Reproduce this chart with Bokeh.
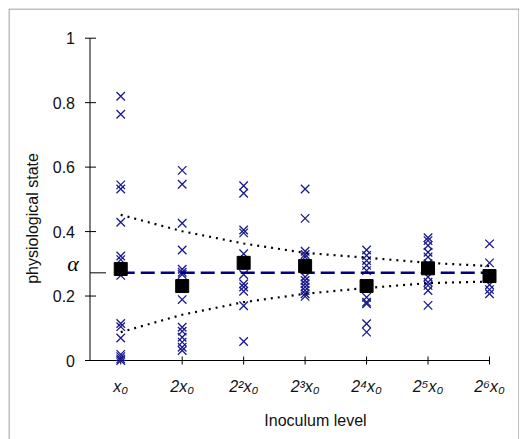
import math
from bokeh.plotting import figure
from bokeh.models import FixedTicker, Label
from bokeh.core.properties import value
from bokeh.embed import file_html
from bokeh.resources import INLINE

# ---------------- data ----------------
levels = ["x₀", "2x₀", "2²x₀", "2³x₀", "2⁴x₀", "2⁵x₀", "2⁶x₀"]
level_pos = [1, 2, 3, 4, 5, 6, 7]

obs_x0 = [0.820, 0.764, 0.545, 0.532, 0.429, 0.324, 0.313, 0.264, 0.115, 0.105, 0.070, 0.019, 0.012, 0.005, 0.000]
obs_2x0 = [0.590, 0.547, 0.426, 0.343, 0.283, 0.274, 0.267, 0.189, 0.103, 0.091, 0.072, 0.057, 0.041, 0.031]
obs_4x0 = [0.542, 0.519, 0.405, 0.396, 0.331, 0.267, 0.238, 0.228, 0.215, 0.170, 0.059]
obs_8x0 = [0.532, 0.441, 0.339, 0.329, 0.321, 0.259, 0.248, 0.238, 0.228, 0.217, 0.207, 0.199]
obs_16x0 = [0.343, 0.326, 0.310, 0.295, 0.279, 0.196, 0.181, 0.176, 0.114, 0.088]
obs_32x0 = [0.381, 0.372, 0.357, 0.336, 0.321, 0.300, 0.259, 0.243, 0.233, 0.217, 0.171]
obs_64x0 = [0.362, 0.303, 0.235, 0.220, 0.207]

means = [0.284, 0.231, 0.303, 0.293, 0.231, 0.286, 0.262]
upper = [0.452, 0.401, 0.363, 0.334, 0.319, 0.303, 0.293]
lower = [0.088, 0.142, 0.181, 0.207, 0.225, 0.240, 0.245]
alpha = 0.272

y_ticks = [0, 0.2, 0.4, 0.6, 0.8, 1]
y_tick_labels = ["0", "0.2", "0.4", "0.6", "0.8", "1"]

# ---------------- layout (pixels inside the frame) ----------------
MARGIN = 8
FW, FH = 511, 431           # frame size
AX_X, AX_Y = 81.5, 352.0    # frame pixel of (x=0.5, y=0)
X_END, Y_TOP = 481.0, 29.7  # frame pixel of x=7 and y=1
sx = (X_END - AX_X) / 6.5
sy = (AX_Y - Y_TOP) / 1.0
x_range = (0.5 - AX_X / sx, 0.5 + (FW - AX_X) / sx)
y_range = (-(FH - AX_Y) / sy, 1 + Y_TOP / sy)

def px_to_data(px, py):
    return 0.5 + (px - AX_X) / sx, (AX_Y - py) / sy

p = figure(width=FW + MARGIN, height=FH + MARGIN, x_range=x_range, y_range=y_range,
           output_backend="svg", toolbar_location=None,
           min_border_left=MARGIN, min_border_top=MARGIN,
           min_border_right=0, min_border_bottom=0)
p.xgrid.visible = False
p.ygrid.visible = False
p.outline_line_color = None
p.background_fill_color = "white"
p.border_fill_color = "white"

FONT = "Liberation Sans"

xa = p.xaxis[0]
xa.fixed_location = 0
xa.bounds = (0.5, 7)
xa.ticker = FixedTicker(ticks=level_pos)
xa.major_label_overrides = {k: v for k, v in zip(level_pos, levels)}
xa.major_tick_in = 4
xa.major_tick_out = 4
xa.major_tick_line_color = None
xa.minor_tick_line_color = None
xa.axis_line_color = None
xa.major_label_standoff = 13
xa.major_label_text_font = FONT
xa.major_label_text_font_size = "16px"
xa.major_label_text_font_style = "italic"
xa.major_label_text_color = "#111111"

ya = p.yaxis[0]
ya.fixed_location = 0.5
ya.bounds = (0, 1)
ya.ticker = FixedTicker(ticks=y_ticks)
ya.major_label_overrides = {k: v for k, v in zip(y_ticks, y_tick_labels)}
ya.major_tick_in = 6
ya.major_tick_out = 5
ya.major_tick_line_color = None
ya.minor_tick_line_color = None
ya.axis_line_color = None
ya.major_label_standoff = 10
ya.major_label_text_font = FONT
ya.major_label_text_font_size = "16px"
ya.major_label_text_color = "#111111"

# border (top, left, right) of the chart area
bx0, by0 = px_to_data(0.5, 0.5)
bx1, by1 = px_to_data(510.5, FH)
p.line([bx0, bx0, bx1, bx1], [by1, by0, by0, by1], line_color="#808080", line_width=1)

# axis lines and ticks
p.segment(x0=[0.5, 0.5], y0=[0, 0], x1=[0.5, 7], y1=[1, 0], line_color="black", line_width=1)
p.segment(x0=[0.5 - 5 / sx] * len(y_ticks), y0=y_ticks,
          x1=[0.5 + 6 / sx] * len(y_ticks), y1=y_ticks, line_color="black", line_width=1)
p.segment(x0=level_pos, y0=[-4 / sy] * len(level_pos),
          x1=level_pos, y1=[4 / sy] * len(level_pos), line_color="black", line_width=1)

# crosses
all_obs = [obs_x0, obs_2x0, obs_4x0, obs_8x0, obs_16x0, obs_32x0, obs_64x0]
xs, ys = [], []
for pos, obs in zip(level_pos, all_obs):
    xs += [pos] * len(obs)
    ys += obs
p.scatter(xs, ys, marker="x", size=12, line_color="#1a1a8c", line_width=1.3)

# alpha line
p.line(level_pos, [alpha] * len(level_pos), line_color="#000080", line_width=2.5, line_dash="14 6")
# bounds
p.line(level_pos, upper, line_color="black", line_width=2.2, line_dash="2 5")
p.line(level_pos, lower, line_color="black", line_width=2.2, line_dash="2 5")
# means
p.scatter(level_pos, means, marker="square", size=13, fill_color="black", line_color="black")

# alpha tick & label
p.segment(x0=[0.5], y0=[alpha], x1=[0.5 + 16 / sx], y1=[alpha], line_color="black", line_width=1)
p.text(x=[0.5], y=[alpha], text=["α"], text_font=value("Liberation Serif"),
       text_font_style="italic", text_font_size="22px", text_align="center",
       text_baseline="alphabetic", x_offset=-17, y_offset=-9, text_color="black")

# axis titles
lx, ly = px_to_data(307, 412)
p.add_layout(Label(x=lx, y=ly, text="Inoculum level", text_font=FONT, text_font_size="16px",
                   text_align="center", text_baseline="middle", text_color="#111111"))
tx, ty = px_to_data(24, 210)
p.add_layout(Label(x=tx, y=ty, text="physiological state", text_font=FONT, text_font_size="16px",
                   text_align="center", text_baseline="middle", angle=math.pi / 2,
                   text_color="#111111"))

open("out.html", "w").write(file_html(p, INLINE))
